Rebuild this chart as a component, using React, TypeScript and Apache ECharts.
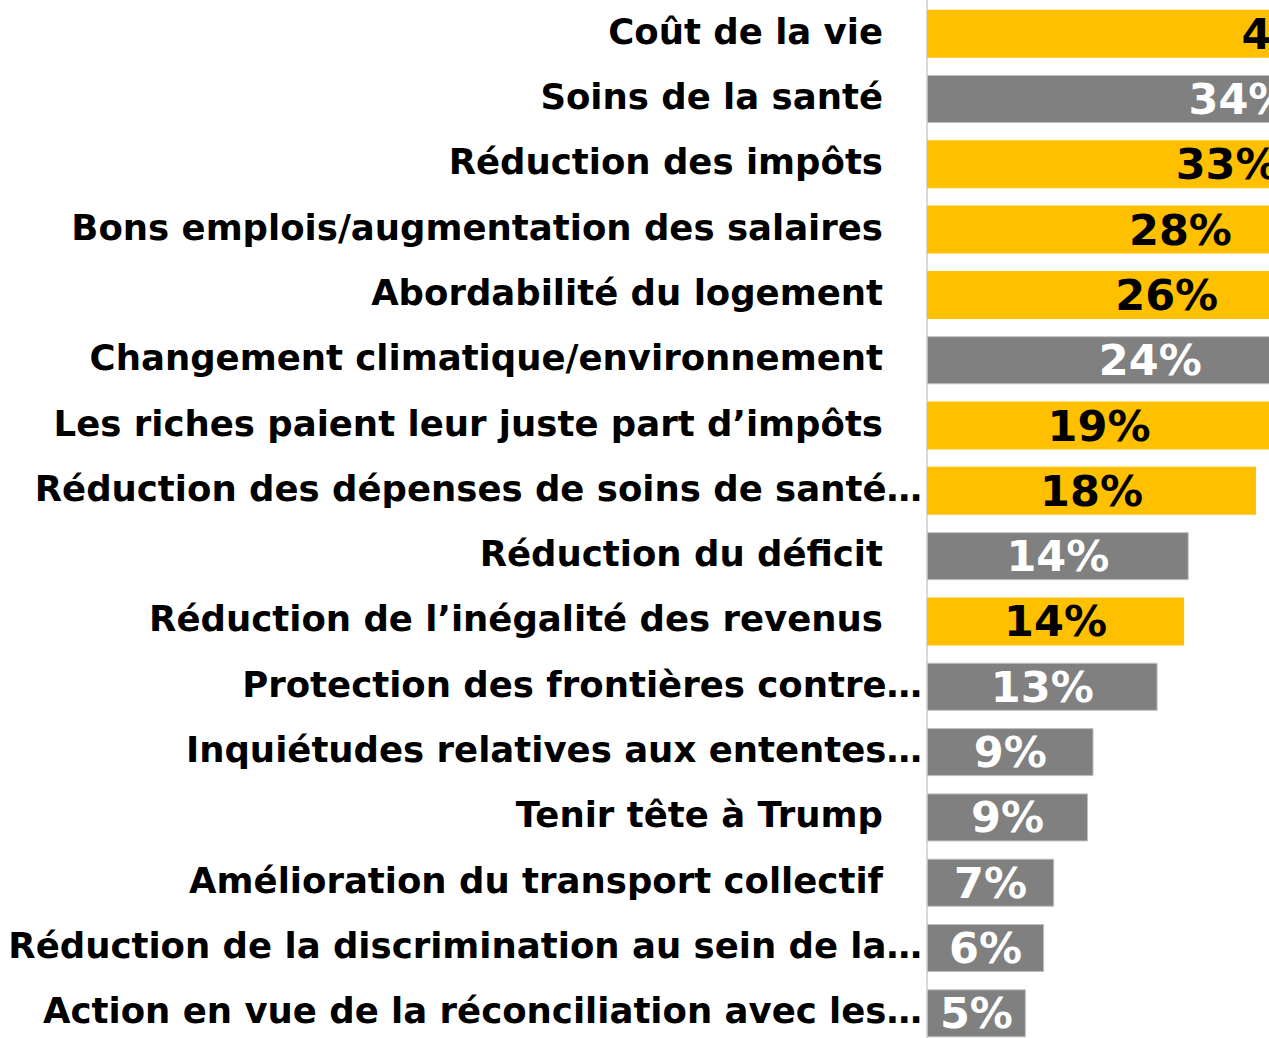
import React, { useEffect, useRef } from "react";
import * as echarts from "echarts";

const categories = [
  "Coût de la vie",
  "Soins de la santé",
  "Réduction des impôts",
  "Bons emplois/augmentation des salaires",
  "Abordabilité du logement",
  "Changement climatique/environnement",
  "Les riches paient leur juste part d’impôts",
  "Réduction des dépenses de soins de santé…",
  "Réduction du déficit",
  "Réduction de l’inégalité des revenus",
  "Protection des frontières contre…",
  "Inquiétudes relatives aux ententes…",
  "Tenir tête à Trump",
  "Amélioration du transport collectif",
  "Réduction de la discrimination au sein de la…",
  "Action en vue de la réconciliation avec les…",
];

const values = [40, 34.2, 32.8, 27.7, 26.2, 24.4, 18.8, 17.98, 14.3, 14.05, 12.6, 9.1, 8.8, 6.95, 6.4, 5.4];

const groups = ["Y", "G", "Y", "Y", "Y", "G", "Y", "Y", "G", "Y", "G", "G", "G", "G", "G", "G"];

const YELLOW = "#FFC000";
const GRAY = "#808080";

export default function App() {
  const ref = useRef<HTMLDivElement>(null);
  useEffect(() => {
    if (!ref.current) return;
    const chart = echarts.init(ref.current, null, { renderer: "svg" });
    const font = "DejaVu Sans";
    chart.setOption({
      animation: false,
      grid: {
        left: 927,
        top: 1,
        height: 1045,
        width: 915,
        containLabel: false,
        outerBoundsMode: "none",
      },
      xAxis: {
        type: "value",
        min: 0,
        max: 50,
        show: false,
      },
      yAxis: {
        type: "category",
        inverse: true,
        data: categories,
        axisTick: { show: false },
        axisLine: { show: true, lineStyle: { color: "#D9D9D9", width: 2 } },
        axisLabel: {
          margin: 5,
          formatter: (v: string) =>
            v.endsWith("…") ? `{t|${v}}` : `{t|${v}}{s|}`,
          rich: {
            t: { fontFamily: font, fontWeight: "bold", fontSize: 35.5, color: "#000", padding: [0, 0, 5, 0] },
            s: { width: 39 },
          },
        },
      },
      series: [
        {
          type: "bar",
          barCategoryGap: "26.5%",
          clip: false,
          data: values.map((v, i) => ({
            value: v,
            itemStyle:
              groups[i] === "Y"
                ? { color: YELLOW }
                : { color: GRAY, borderColor: "#BFBFBF", borderWidth: 1 },
            label: { color: groups[i] === "Y" ? "#000" : "#fff" },
          })),
          label: {
            show: true,
            position: "inside",
            fontFamily: font,
            fontWeight: "bold",
            fontSize: 43,
            formatter: (p: any) => `${Math.round(p.value)}%`,
          },
        },
      ],
    });
    return () => chart.dispose();
  }, []);
  return (
    <div style={{ position: "fixed", left: 0, top: 0, width: 1269, height: 1038, overflow: "hidden", background: "#fff" }}>
      <div ref={ref} style={{ width: 1900, height: 1048 }} />
    </div>
  );
}
